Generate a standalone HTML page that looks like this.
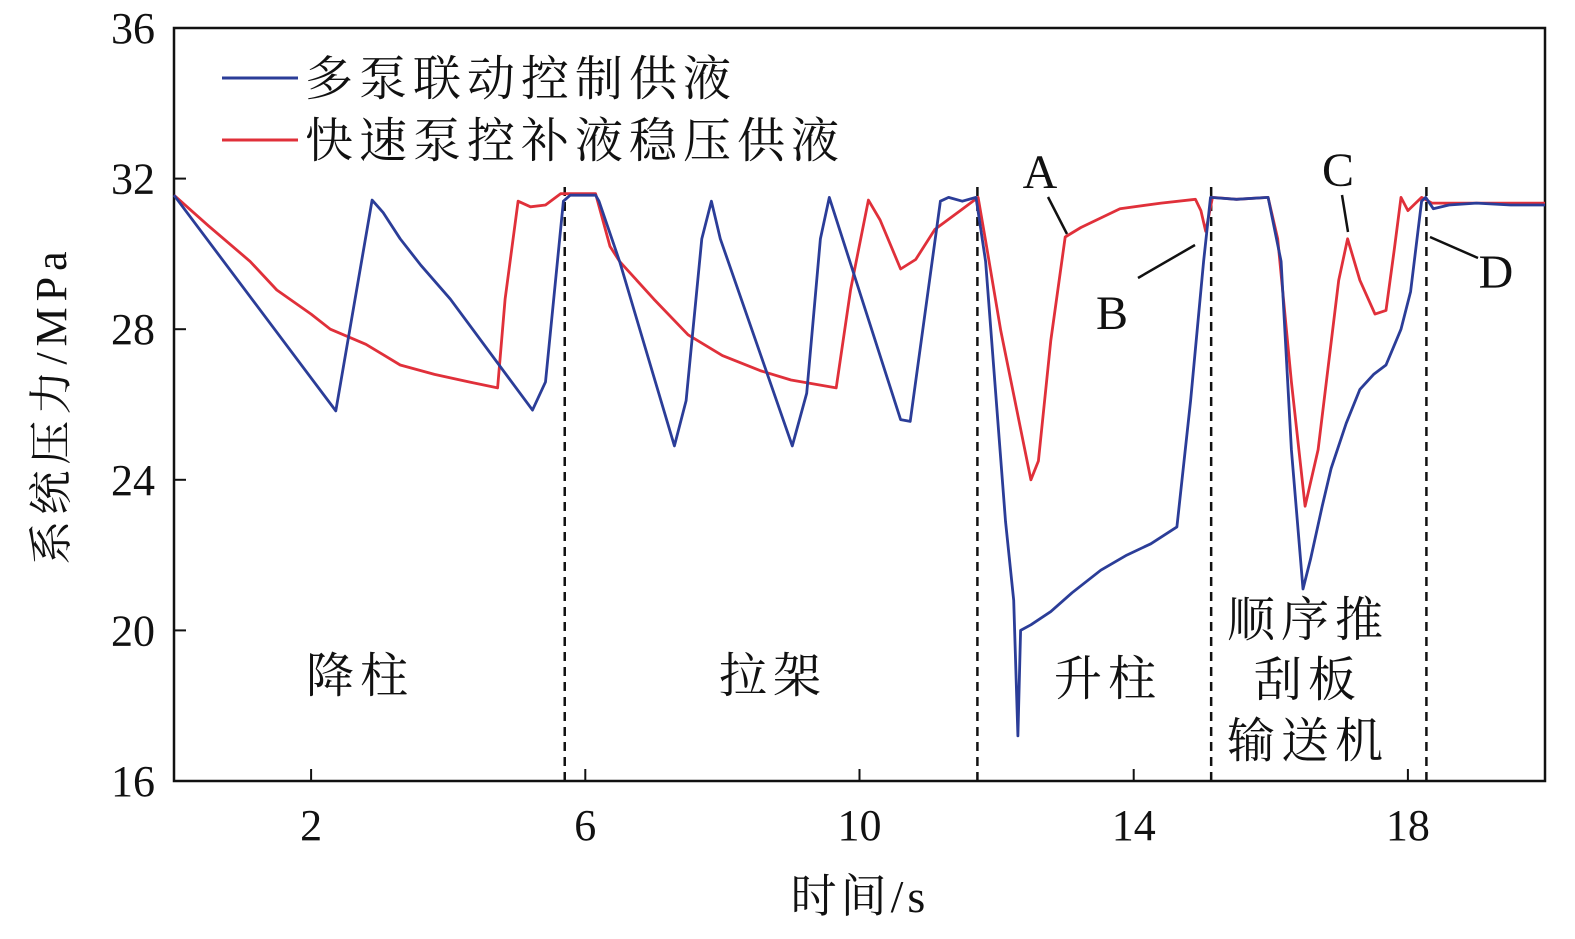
<!DOCTYPE html>
<html><head><meta charset="utf-8"><style>
body{margin:0;background:#fff}
svg text{font-family:"Liberation Serif","Noto Serif CJK SC",serif;fill:#111}
</style></head><body>
<svg id="chart" width="1575" height="934" viewBox="0 0 1575 934" xmlns="http://www.w3.org/2000/svg">
<g id="axes"></g><g id="marks"></g><g id="ann"></g>
</svg>
<script>
const xTicks=[2,6,10,14,18];
const yTicks=[16,20,24,28,32,36];
const dividers=[5.7,11.72,15.13,18.27];
const blueT=[0,2.36,2.89,3.05,3.3,3.6,4.03,5.23,5.42,5.68,5.78,6.15,6.2,6.5,7.3,7.47,7.7,7.84,7.97,9.02,9.23,9.43,9.56,10.6,10.74,11.18,11.3,11.5,11.7,11.84,12.13,12.25,12.31,12.35,12.5,12.79,13.1,13.52,13.9,14.25,14.63,14.83,15.02,15.12,15.5,15.96,16.15,16.3,16.47,16.58,16.75,16.88,17.1,17.3,17.5,17.68,17.9,18.04,18.2,18.26,18.37,18.6,19,19.5,20];
const blueV=[31.56,25.83,31.43,31.1,30.4,29.7,28.8,25.85,26.6,31.4,31.56,31.56,31.4,29.8,24.9,26.1,30.4,31.4,30.4,24.9,26.3,30.4,31.5,25.6,25.55,31.4,31.5,31.4,31.5,29.8,22.9,20.8,17.2,20.0,20.15,20.5,21.0,21.6,22.0,22.3,22.75,26.1,29.8,31.5,31.45,31.5,29.8,24.8,21.1,21.9,23.3,24.3,25.5,26.4,26.8,27.05,28,29.0,31.4,31.5,31.2,31.3,31.35,31.3,31.3];
const redT=[0,0.5,1.11,1.5,2.0,2.28,2.8,3.3,3.8,4.3,4.72,4.83,5.02,5.2,5.42,5.64,6.15,6.36,6.5,7.0,7.5,8.0,8.55,9.0,9.66,9.87,10.13,10.3,10.6,10.82,11.1,11.47,11.73,11.84,12.06,12.5,12.61,12.79,13.0,13.23,13.8,14.4,14.9,14.98,15.05,15.15,15.5,15.96,16.1,16.3,16.5,16.69,16.99,17.12,17.3,17.52,17.68,17.8,17.9,18.0,18.2,18.35,19,20];
const redV=[31.56,30.75,29.8,29.04,28.4,28,27.6,27.05,26.8,26.6,26.44,28.8,31.4,31.25,31.3,31.6,31.6,30.2,29.8,28.8,27.85,27.3,26.9,26.65,26.44,29.05,31.43,30.9,29.6,29.85,30.65,31.15,31.5,30.35,27.97,24,24.5,27.7,30.45,30.7,31.2,31.35,31.45,31.15,30.6,31.5,31.45,31.5,30.4,26.6,23.3,24.8,29.3,30.4,29.3,28.4,28.5,30.1,31.5,31.15,31.5,31.35,31.35,31.35];
const L=174,R=1545,T=28,B=781;
const sx=t=>L+(t-0)/(20-0)*(R-L);
const sy=v=>B-(v-16)/(36-16)*(B-T);
const NS='http://www.w3.org/2000/svg';
function mk(parent,tag,attrs,text){const e=document.createElementNS(NS,tag);for(const k in attrs)e.setAttribute(k,attrs[k]);if(text!==undefined)e.textContent=text;parent.appendChild(e);return e;}
const ax=document.getElementById('axes'),mg=document.getElementById('marks'),an=document.getElementById('ann');
let f=mk(ax,'rect',{x:L,y:T,width:R-L,height:B-T,fill:'none',stroke:'#111','stroke-width':2.5});


xTicks.forEach(t=>{
  let l=mk(ax,'line',{x1:sx(t),x2:sx(t),y1:B,y2:B-12,stroke:'#111','stroke-width':2});
  
  
  let tx=mk(ax,'text',{x:sx(t),y:840,'font-size':44,'text-anchor':'middle'},String(t));
  
  
});
yTicks.forEach(v=>{
  let l=mk(ax,'line',{x1:L,x2:L+12,y1:sy(v),y2:sy(v),stroke:'#111','stroke-width':2});
  
  
  let tx=mk(ax,'text',{x:155,y:sy(v)+15,'font-size':44,'text-anchor':'end'},String(v));
  
  
});
let xt=mk(ax,'text',{x:860,y:912,'font-size':46,'text-anchor':'middle','letter-spacing':4},'时间/s');


let yt=mk(ax,'text',{x:0,y:0,'font-size':44,'text-anchor':'middle','letter-spacing':6,transform:'translate(66,405) rotate(-90)'},'系统压力/MPa');


dividers.forEach(t=>{
  let l=mk(mg,'line',{x1:sx(t),x2:sx(t),y1:B,y2:182,stroke:'#111','stroke-width':2.5,'stroke-dasharray':'9,6'});
  
  
});
function path(T_,V_,c,name){
  const d=T_.map((t,i)=>(i?'L':'M')+sx(t).toFixed(1)+','+sy(V_[i]).toFixed(1)).join('');
  let p=mk(mg,'path',{d:d,fill:'none',stroke:c,'stroke-width':2.8,'stroke-linejoin':'round'});
  
  
}
path(redT,redV,'#e0303a','series-fast-pump-line');
path(blueT,blueV,'#2b3d98','series-multi-pump-line');
[['#2b3d98','多泵联动控制供液',78],['#e0303a','快速泵控补液稳压供液',140]].forEach(([c,s,y])=>{
  let l=mk(an,'line',{x1:222,x2:298,y1:y,y2:y,stroke:c,'stroke-width':3});
  
  
  let t=mk(an,'text',{x:305,y:y+17,'font-size':48,'letter-spacing':6},s);
  
  
});
[['降柱',360,692],['拉架',773,692],['升柱',1108,695],['顺序推',1308,636],['刮板',1308,696],['输送机',1308,757]].forEach(([s,x,y])=>{
  let t=mk(an,'text',{x:x,y:y,'font-size':48,'text-anchor':'middle','letter-spacing':6},s);
  
  
});
[['A',1040,188,1048,197,1067,234],['B',1112,329,1138,278,1195,245],['C',1338,186,1342,195,1348,232],['D',1496,288,1430,237,1478,258]].forEach(([s,x,y,x1,y1,x2,y2])=>{
  let t=mk(an,'text',{x:x,y:y,'font-size':48,'text-anchor':'middle'},s);
  
  
  let l=mk(an,'line',{x1:x1,y1:y1,x2:x2,y2:y2,stroke:'#111','stroke-width':2.5});
  
  
});
</script>
</body></html>
